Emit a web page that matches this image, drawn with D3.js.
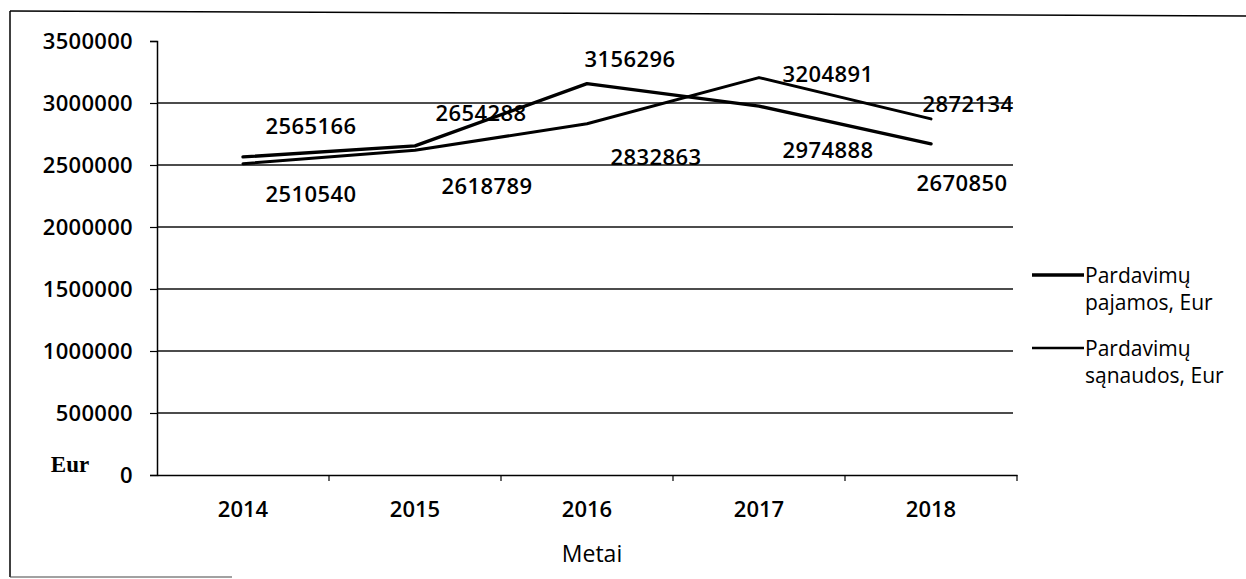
<!DOCTYPE html>
<html>
<head>
<meta charset="utf-8">
<script src="https://cdn.jsdelivr.net/npm/d3@7"></script>
<style>
  html, body { margin: 0; padding: 0; background: #fff; }
  svg { display: block; }
  text { font-family: "Open Sans", "Noto Sans", sans-serif; fill: #000; }
</style>
</head>
<body>
<svg id="chart" width="1246" height="579"></svg>
<script>
// ---- data ----
const years = ["2014", "2015", "2016", "2017", "2018"];
const pajamos = [2565166, 2654288, 3156296, 2974888, 2670850];
const sanaudos = [2510540, 2618789, 2832863, 3204891, 2872134];
const yTicks = [0, 500000, 1000000, 1500000, 2000000, 2500000, 3000000, 3500000];
const seriesNames = [["Pardavimų", "pajamos, Eur"], ["Pardavimų", "sąnaudos, Eur"]];
const yTitle = "Eur";
const xTitle = "Metai";

// label placement (dx, dy from the point) — layout only
const pajamosLabelOffsets = [[68, -32], [66, -34], [43, -26], [69, 43], [31, 38]];
const sanaudosLabelOffsets = [[68, 29], [72, 35], [69, 32], [69, -5], [37, -16]];

const svg = d3.select("#chart");

// outer (scanned) border
svg.append("line").attr("x1", 10).attr("y1", 11).attr("x2", 1246).attr("y2", 16)
  .attr("stroke", "#000").attr("stroke-width", 1.5);
svg.append("line").attr("x1", 10).attr("y1", 11).attr("x2", 10).attr("y2", 577)
  .attr("stroke", "#000").attr("stroke-width", 1.5);
svg.append("line").attr("x1", 10).attr("y1", 577).attr("x2", 232).attr("y2", 577)
  .attr("stroke", "#444").attr("stroke-width", 1.2);

const plot = { left: 157, right: 1017, top: 41, bottom: 475 };

const x = d3.scaleBand().domain(years).range([plot.left, plot.right]).padding(0);
const y = d3.scaleLinear().domain([0, 3500000]).range([plot.bottom, plot.top]);

// gridlines
svg.append("g").selectAll("line").data(yTicks.filter(d => d > 0 && d < 3500000)).join("line")
  .attr("x1", plot.left).attr("x2", plot.right - 4)
  .attr("y1", d => y(d)).attr("y2", d => y(d))
  .attr("stroke", "#111").attr("stroke-width", 1.3);

// y axis
const yAxis = d3.axisLeft(y).tickValues(yTicks).tickSize(7).tickPadding(17).tickFormat(d3.format("d"));
const gy = svg.append("g").attr("transform", `translate(${plot.left},0)`).call(yAxis);
gy.attr("font-size", null).attr("font-family", null);
gy.select(".domain").attr("stroke", "#000").attr("stroke-width", 1.5);
gy.selectAll(".tick line").attr("stroke", "#000").attr("stroke-width", 1.2);
gy.selectAll(".tick text").style("font-size", "22px").style("font-family", "'Open Sans'")
  .style("font-weight", 600).attr("fill", "#000").attr("letter-spacing", 0.3);

// x axis
const xAxis = d3.axisBottom(x).tickSize(0).tickPadding(26);
const gx = svg.append("g").attr("transform", `translate(0,${plot.bottom})`).call(xAxis);
gx.attr("font-size", null).attr("font-family", null);
gx.select(".domain").attr("stroke", "#000").attr("stroke-width", 1.5);
gx.selectAll(".tick text").style("font-size", "22px").style("font-family", "'Open Sans'")
  .style("font-weight", 600).attr("fill", "#000");
// category boundary ticks
svg.append("g").selectAll("line").data(years).join("line")
  .attr("x1", d => x(d) + x.bandwidth()).attr("x2", d => x(d) + x.bandwidth())
  .attr("y1", plot.bottom).attr("y2", plot.bottom + 6)
  .attr("stroke", "#000").attr("stroke-width", 1.2);

// lines
const line = d3.line().x((d, i) => x(years[i]) + x.bandwidth() / 2).y(d => y(d));
svg.append("path").datum(sanaudos).attr("d", line)
  .attr("fill", "none").attr("stroke", "#000").attr("stroke-width", 3)
  .attr("stroke-linejoin", "round").attr("stroke-linecap", "round");
svg.append("path").datum(pajamos).attr("d", line)
  .attr("fill", "none").attr("stroke", "#000").attr("stroke-width", 3.4)
  .attr("stroke-linejoin", "round").attr("stroke-linecap", "round");

// data labels
function labels(values, offsets) {
  svg.append("g").selectAll("text").data(values).join("text")
    .attr("x", (d, i) => x(years[i]) + x.bandwidth() / 2 + offsets[i][0])
    .attr("y", (d, i) => y(d) + offsets[i][1])
    .attr("text-anchor", "middle").attr("dominant-baseline", "central")
    .style("font-size", "22px").style("font-weight", 600)
    .attr("letter-spacing", 0.4)
    .text(d => d);
}
labels(pajamos, pajamosLabelOffsets);
labels(sanaudos, sanaudosLabelOffsets);

// axis titles
svg.append("text").attr("x", 70).attr("y", 464).attr("text-anchor", "middle")
  .attr("dominant-baseline", "central")
  .style("font-family", "'Liberation Serif', serif")
  .style("font-size", "23px").style("font-weight", 700).text(yTitle);
svg.append("text").attr("x", 592).attr("y", 553).attr("text-anchor", "middle")
  .attr("dominant-baseline", "central").style("font-size", "23px").style("font-weight", 500).text(xTitle);

// legend
const legendY = [275, 348];
const legendW = [3.4, 2.4];
const lg = svg.append("g");
seriesNames.forEach((lines, i) => {
  lg.append("line").attr("x1", 1032).attr("x2", 1084)
    .attr("y1", legendY[i]).attr("y2", legendY[i])
    .attr("stroke", "#000").attr("stroke-width", legendW[i]);
  lines.forEach((txt, j) => {
    lg.append("text").attr("x", 1085).attr("y", legendY[i] + j * 27)
      .style("font-size", "21px").style("font-weight", 500)
      .attr("dominant-baseline", "central").text(txt);
  });
});
</script>
</body>
</html>
